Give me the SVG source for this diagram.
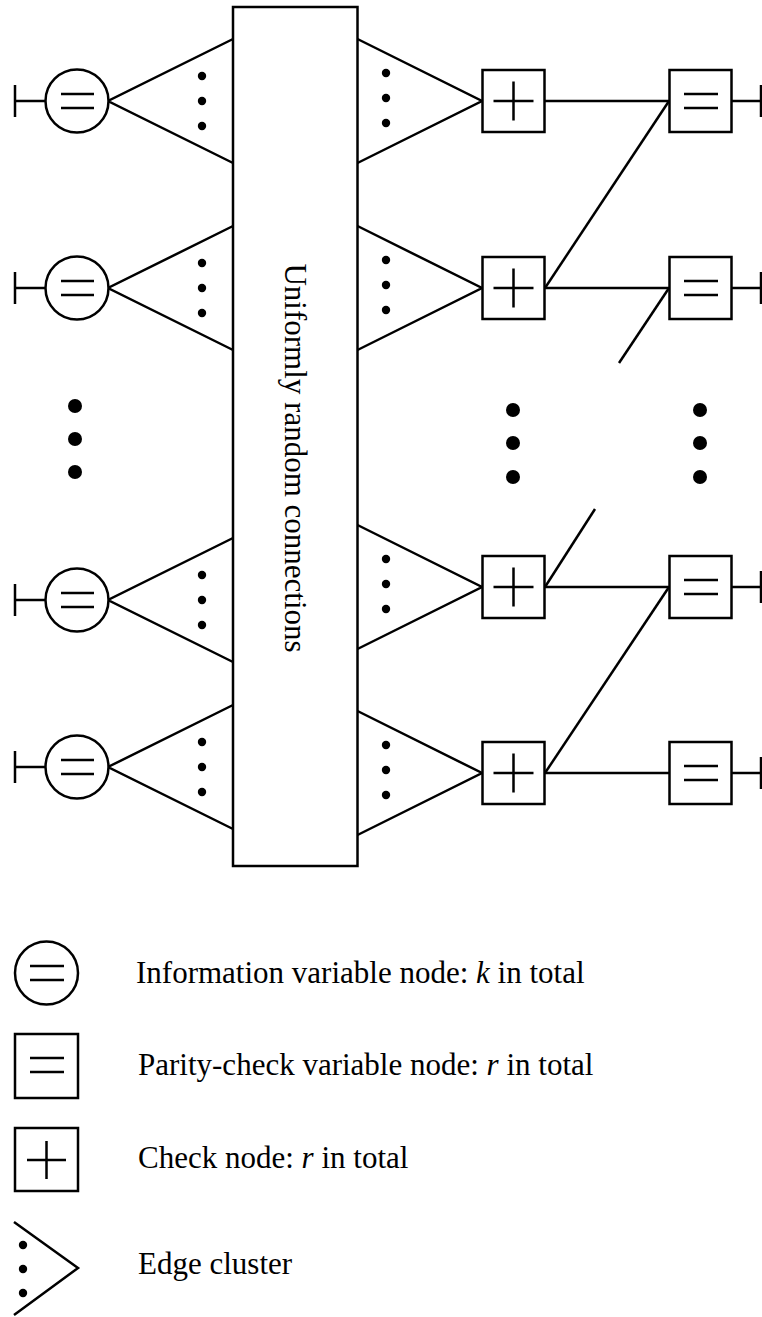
<svg xmlns="http://www.w3.org/2000/svg" width="762" height="1317" viewBox="0 0 762 1317">
<defs>
<style>
.s{stroke:#000;stroke-width:2.5;fill:none;stroke-linecap:butt}
.b{stroke:#000;stroke-width:2.5;fill:#fff}
.d{fill:#000;stroke:none}
.t{font-family:"Liberation Serif","Times New Roman",serif;font-size:31px;fill:#000}
</style>
</defs>
<rect width="762" height="1317" fill="#fff"/>
<g id="connectors">
<line class="s" x1="15" y1="101" x2="46" y2="101"/>
<line class="s" x1="15" y1="288" x2="46" y2="288"/>
<line class="s" x1="15" y1="600" x2="46" y2="600"/>
<line class="s" x1="15" y1="767" x2="46" y2="767"/>
<line class="s" x1="544" y1="101" x2="669" y2="101"/>
<line class="s" x1="544" y1="288" x2="669" y2="288"/>
<line class="s" x1="544" y1="587" x2="669" y2="587"/>
<line class="s" x1="544" y1="773" x2="669" y2="773"/>
<line class="s" x1="732" y1="101" x2="761" y2="101"/>
<line class="s" x1="732" y1="288" x2="761" y2="288"/>
<line class="s" x1="732" y1="587" x2="761" y2="587"/>
<line class="s" x1="732" y1="773" x2="761" y2="773"/>
<line class="s" x1="669" y1="101" x2="545" y2="288"/>
<line class="s" x1="669" y1="288" x2="619" y2="363"/>
<line class="s" x1="545" y1="587" x2="595" y2="509"/>
<line class="s" x1="669" y1="587" x2="545" y2="773"/>
</g>
<g id="random-connections">
<rect class="b" x="233" y="7" width="124.5" height="859"/>
<text class="t" transform="translate(285,458) rotate(90)" text-anchor="middle">Uniformly random connections</text>
</g>
<g id="edge-clusters-left">
<polyline class="s" points="233,39 108,101 233,163"/>
<polyline class="s" points="233,226 108,288 233,350"/>
<polyline class="s" points="233,538 108,600 233,662"/>
<polyline class="s" points="233,705 108,767 233,829"/>
<g class="d">
<circle cx="202" cy="76" r="4.2"/><circle cx="202" cy="101" r="4.2"/><circle cx="202" cy="126" r="4.2"/>
<circle cx="202" cy="263" r="4.2"/><circle cx="202" cy="288" r="4.2"/><circle cx="202" cy="313" r="4.2"/>
<circle cx="202" cy="575" r="4.2"/><circle cx="202" cy="600" r="4.2"/><circle cx="202" cy="625" r="4.2"/>
<circle cx="202" cy="742" r="4.2"/><circle cx="202" cy="767" r="4.2"/><circle cx="202" cy="792" r="4.2"/>
</g>
</g>
<g id="edge-clusters-right">
<polyline class="s" points="357.5,39 482,101 357.5,163"/>
<polyline class="s" points="357.5,226 482,288 357.5,350"/>
<polyline class="s" points="357.5,525 482,587 357.5,649"/>
<polyline class="s" points="357.5,711 482,773 357.5,835"/>
<g class="d">
<circle cx="386" cy="73" r="4.2"/><circle cx="386" cy="98" r="4.2"/><circle cx="386" cy="123" r="4.2"/>
<circle cx="386" cy="260" r="4.2"/><circle cx="386" cy="285" r="4.2"/><circle cx="386" cy="310" r="4.2"/>
<circle cx="386" cy="559" r="4.2"/><circle cx="386" cy="584" r="4.2"/><circle cx="386" cy="609" r="4.2"/>
<circle cx="386" cy="745" r="4.2"/><circle cx="386" cy="770" r="4.2"/><circle cx="386" cy="795" r="4.2"/>
</g>
</g>
<g id="info-node-1"><line class="s" x1="15" y1="85" x2="15" y2="117"/><circle class="b" cx="77" cy="101" r="31.5"/><path class="s" d="M61,94H94M61,108H94"/></g>
<g id="info-node-2"><line class="s" x1="15" y1="272" x2="15" y2="304"/><circle class="b" cx="77" cy="288" r="31.5"/><path class="s" d="M61,281H94M61,295H94"/></g>
<g id="info-node-3"><line class="s" x1="15" y1="584" x2="15" y2="616"/><circle class="b" cx="77" cy="600" r="31.5"/><path class="s" d="M61,593H94M61,607H94"/></g>
<g id="info-node-4"><line class="s" x1="15" y1="751" x2="15" y2="783"/><circle class="b" cx="77" cy="767" r="31.5"/><path class="s" d="M61,760H94M61,774H94"/></g>
<g id="dots-left" class="d"><circle cx="75" cy="406" r="7"/><circle cx="75" cy="439" r="7"/><circle cx="75" cy="472" r="7"/></g>
<g id="check-node-1"><rect class="b" x="482.5" y="70" width="62" height="62"/><path class="s" d="M493.5,101H533.5M513.5,81.5V120.5"/></g>
<g id="check-node-2"><rect class="b" x="482.5" y="257" width="62" height="62"/><path class="s" d="M493.5,288H533.5M513.5,268.5V307.5"/></g>
<g id="check-node-3"><rect class="b" x="482.5" y="556" width="62" height="62"/><path class="s" d="M493.5,587H533.5M513.5,567.5V606.5"/></g>
<g id="check-node-4"><rect class="b" x="482.5" y="742" width="62" height="62"/><path class="s" d="M493.5,773H533.5M513.5,753.5V792.5"/></g>
<g id="dots-check" class="d"><circle cx="513" cy="410" r="7"/><circle cx="513" cy="443" r="7"/><circle cx="513" cy="477" r="7"/></g>
<g id="parity-node-1"><rect class="b" x="669.5" y="70" width="62" height="62"/><path class="s" d="M684,94H718M684,108H718"/><line class="s" x1="761" y1="85" x2="761" y2="117"/></g>
<g id="parity-node-2"><rect class="b" x="669.5" y="257" width="62" height="62"/><path class="s" d="M684,281H718M684,295H718"/><line class="s" x1="761" y1="272" x2="761" y2="304"/></g>
<g id="parity-node-3"><rect class="b" x="669.5" y="556" width="62" height="62"/><path class="s" d="M684,580H718M684,594H718"/><line class="s" x1="761" y1="571" x2="761" y2="603"/></g>
<g id="parity-node-4"><rect class="b" x="669.5" y="742" width="62" height="62"/><path class="s" d="M684,766H718M684,780H718"/><line class="s" x1="761" y1="757" x2="761" y2="789"/></g>
<g id="dots-parity" class="d"><circle cx="700" cy="410" r="7"/><circle cx="700" cy="443" r="7"/><circle cx="700" cy="477" r="7"/></g>
<g id="legend">
<g id="legend-info"><circle class="b" cx="46.5" cy="973" r="31.5"/><path class="s" d="M30,966H64M30,980H64"/><text class="t" x="136" y="983">Information variable node: <tspan font-style="italic">k</tspan> in total</text></g>
<g id="legend-parity"><rect class="b" x="15" y="1034" width="63" height="64"/><path class="s" d="M30,1058H64M30,1072H64"/><text class="t" x="138" y="1075">Parity-check variable node: <tspan font-style="italic">r</tspan> in total</text></g>
<g id="legend-check"><rect class="b" x="15" y="1128" width="63" height="63"/><path class="s" d="M27,1160H66M46.5,1141V1179"/><text class="t" x="138" y="1168">Check node: <tspan font-style="italic">r</tspan> in total</text></g>
<g id="legend-edge"><polyline class="s" points="14,1222 78,1268 14,1315"/><g class="d"><circle cx="23" cy="1245" r="4.2"/><circle cx="23" cy="1269" r="4.2"/><circle cx="23" cy="1293" r="4.2"/></g><text class="t" x="138" y="1274">Edge cluster</text></g>
</g>
</svg>
